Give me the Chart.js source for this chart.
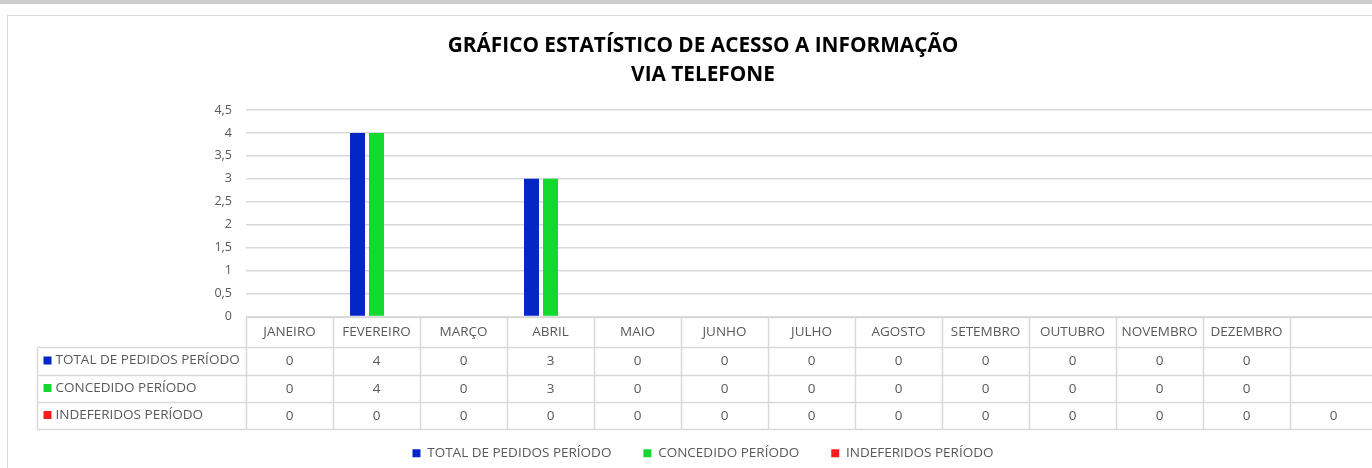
<!DOCTYPE html>
<html>
<head>
<meta charset="utf-8">
<script src="https://cdn.jsdelivr.net/npm/chart.js@4.4.0/dist/chart.umd.min.js"></script>
<style>
  html, body { margin: 0; padding: 0; background: #fff; overflow: hidden; width: 1372px; height: 468px; }
  #topbar { position: absolute; left: 0; top: 0; width: 1372px; height: 4px; background: #cdcdcd; }
  #frame { position: absolute; left: 7px; top: 15px; width: 1392px; height: 470px; border: 1px solid #d9d9d9; box-sizing: border-box; }
  #chart { position: absolute; left: 0; top: 0; }
</style>
</head>
<body>
<div id="topbar"></div>
<div id="frame"><canvas id="chart" width="1390" height="462"></canvas></div>
<script>
// dados do gráfico
const meses = ["JANEIRO", "FEVEREIRO", "MARÇO", "ABRIL", "MAIO", "JUNHO", "JULHO",
  "AGOSTO", "SETEMBRO", "OUTUBRO", "NOVEMBRO", "DEZEMBRO", ""];
const totalPedidos = [0, 4, 0, 3, 0, 0, 0, 0, 0, 0, 0, 0, null];
const concedidos = [0, 4, 0, 3, 0, 0, 0, 0, 0, 0, 0, 0, null];
const indeferidos = [0, 0, 0, 0, 0, 0, 0, 0, 0, 0, 0, 0, 0];
const yTicks = [0, 0.5, 1, 1.5, 2, 2.5, 3, 3.5, 4, 4.5];

const FONTE = "'Open Sans', sans-serif";
const CINZA = "#595959";
const LINHA = "#d9d9d9";

// tabela de dados abaixo do eixo x (como no Excel)
const tabelaPlugin = {
  id: "tabelaDados",
  afterDraw(chart) {
    const ctx = chart.ctx;
    const x = chart.scales.x;
    const topo = Math.round(chart.chartArea.bottom) + 0.5;
    const n = meses.length;
    const colW = x.width / n;
    const alturas = [30, 28, 27, 27];
    const linhasY = [topo];
    alturas.forEach(h => linhasY.push(linhasY[linhasY.length - 1] + h));
    const esq = 29.5;
    const dir = x.right;

    ctx.save();
    ctx.strokeStyle = LINHA;
    ctx.lineWidth = 1.5;
    const traco = (x1, y1, x2, y2) => {
      ctx.beginPath();
      ctx.moveTo(x1, y1);
      ctx.lineTo(x2, y2);
      ctx.stroke();
    };
    traco(x.left, topo, dir, topo);
    for (let i = 1; i < linhasY.length; i++) traco(esq, linhasY[i], dir, linhasY[i]);
    for (let i = 0; i <= n; i++) {
      const xx = Math.round(x.left + i * colW) + 0.5;
      traco(xx, topo, xx, linhasY[4]);
    }
    traco(esq, linhasY[1], esq, linhasY[4]);

    ctx.font = "13.5px " + FONTE;
    ctx.fillStyle = CINZA;
    ctx.textAlign = "center";
    ctx.textBaseline = "middle";
    meses.forEach((m, i) => {
      ctx.fillText(m, x.getPixelForValue(i), (linhasY[0] + linhasY[1]) / 2);
    });

    chart.data.datasets.forEach((ds, r) => {
      const yc = (linhasY[r + 1] + linhasY[r + 2]) / 2;
      ctx.fillStyle = ds.backgroundColor;
      ctx.fillRect(esq + 6, yc - 5, 8, 8);
      ctx.fillStyle = CINZA;
      ctx.textAlign = "left";
      ctx.fillText(ds.label, esq + 18, yc - 1);
      ctx.textAlign = "center";
      ds.data.forEach((v, i) => {
        if (v === null) return;
        ctx.fillText(String(v), x.getPixelForValue(i), yc);
      });
    });
    ctx.restore();
  }
};

const ctx = document.getElementById("chart").getContext("2d");
new Chart(ctx, {
  type: "bar",
  data: {
    labels: meses,
    datasets: [
      { label: "TOTAL DE PEDIDOS PERÍODO", data: totalPedidos, backgroundColor: "#0426c6" },
      { label: "CONCEDIDO PERÍODO", data: concedidos, backgroundColor: "#12d92e" },
      { label: "INDEFERIDOS PERÍODO", data: indeferidos, backgroundColor: "#ff1b1b" }
    ]
  },
  options: {
    responsive: false,
    animation: false,
    layout: { padding: { left: 21, right: 21, top: 0, bottom: 8 } },
    datasets: { bar: { categoryPercentage: 0.655, barPercentage: 0.79 } },
    plugins: {
      title: {
        display: true,
        text: ["GRÁFICO ESTATÍSTICO DE ACESSO A INFORMAÇÃO", "VIA TELEFONE"],
        color: "#000",
        font: { family: FONTE, size: 20.8, weight: "bold", lineHeight: 1.395 },
        padding: { top: 15.5, bottom: 20.5 }
      },
      legend: {
        position: "bottom",
        labels: {
          boxWidth: 8, boxHeight: 8, padding: 32,
          color: CINZA,
          font: { family: FONTE, size: 13.5 }
        }
      },
      tooltip: { enabled: false }
    },
    scales: {
      x: {
        grid: { display: false },
        border: { display: false },
        ticks: { display: false },
        afterFit: s => { s.height = 98; }
      },
      y: {
        min: 0,
        max: 4.5,
        afterBuildTicks: s => { s.ticks = yTicks.map(v => ({ value: v })); },
        afterFit: s => { s.width = 217; },
        grid: { color: LINHA, lineWidth: 1.5, drawTicks: false },
        border: { display: false },
        ticks: {
          padding: 14,
          color: CINZA,
          font: { family: FONTE, size: 12.5 },
          callback: v => String(v).replace(".", ",")
        }
      }
    }
  },
  plugins: [tabelaPlugin]
});
</script>
</body>
</html>
